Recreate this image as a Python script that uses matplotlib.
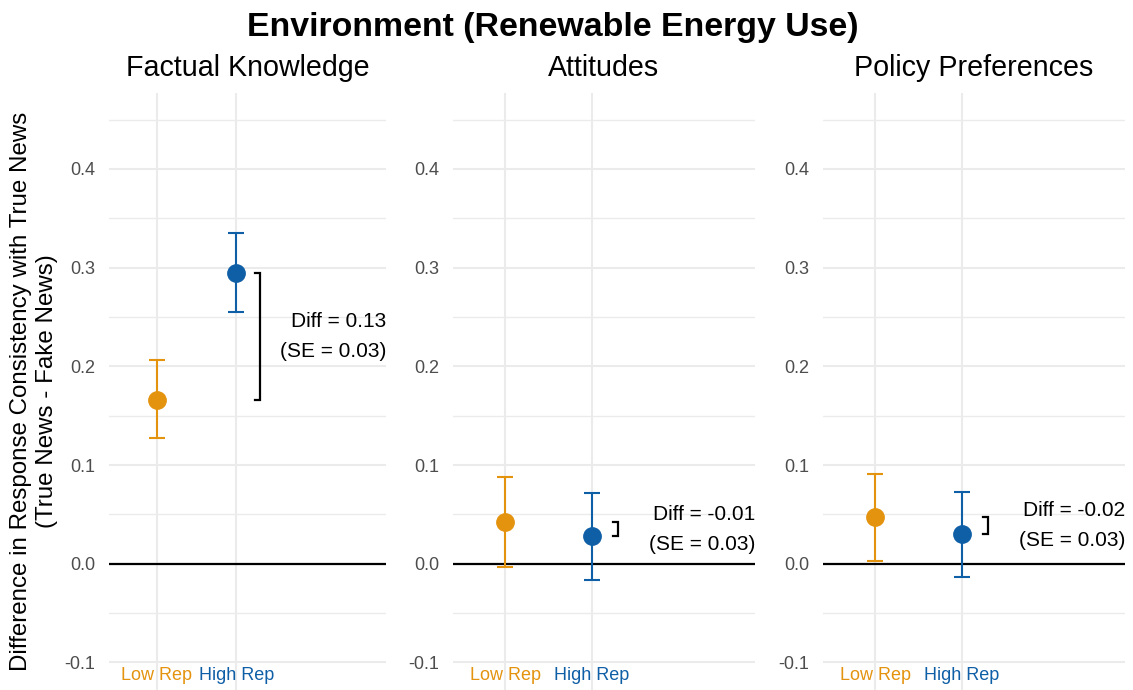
import matplotlib.pyplot as plt
from matplotlib.ticker import MultipleLocator

plt.rcParams['font.family'] = ['Liberation Sans', 'DejaVu Sans']

panels = ["Factual Knowledge", "Attitudes", "Policy Preferences"]
groups = ["Low Rep", "High Rep"]
group_colors = ["#E4930F", "#0F5FA7"]

# point estimates and 95% interval ends, one value per panel
low_est = [0.166, 0.042, 0.047]
low_lo = [0.127, -0.003, 0.003]
low_hi = [0.206, 0.088, 0.091]
high_est = [0.295, 0.028, 0.030]
high_lo = [0.255, -0.017, -0.013]
high_hi = [0.335, 0.072, 0.073]

diffs = [0.13, -0.01, -0.02]
diff_se = [0.03, 0.03, 0.03]

W, H = 1133, 690
fig = plt.figure(figsize=(W / 100, H / 100), dpi=100)

# panel boxes in pixels: left, right
boxes = [(109, 386), (453, 755), (823, 1125)]
top_px, bot_px = 93, 690
ylim = (-0.128, 0.477)
xlim = (0.4, 3.88)

grid_col = "#EBEBEB"
tick_col = "#4D4D4D"

for i, (l, r) in enumerate(boxes):
    ax = fig.add_axes([l / W, 1 - bot_px / H, (r - l) / W, (bot_px - top_px) / H])
    ax.set_xlim(*xlim)
    ax.set_ylim(*ylim)
    for s in ax.spines.values():
        s.set_visible(False)

    ax.yaxis.set_major_locator(MultipleLocator(0.1))
    ax.yaxis.set_minor_locator(MultipleLocator(0.05))
    ax.set_xticks([1, 2])
    ax.set_xticklabels([])
    ax.tick_params(axis="both", which="both", length=0)
    ax.tick_params(axis="y", labelsize=13, labelcolor=tick_col, pad=10)
    ax.grid(True, axis="y", which="major", color=grid_col, lw=1.5, zorder=0)
    ax.grid(True, axis="y", which="minor", color=grid_col, lw=1.0, zorder=0)
    ax.grid(True, axis="x", which="major", color=grid_col, lw=1.5, zorder=0)
    ax.set_axisbelow(True)
    ax.yaxis.set_major_formatter(lambda v, p: f"{v:.1f}" if abs(v) > 1e-9 else "0.0")

    ax.axhline(0, color="black", lw=1.6, zorder=1)

    ests = [low_est[i], high_est[i]]
    los = [low_lo[i], high_lo[i]]
    his = [low_hi[i], high_hi[i]]
    for j in range(2):
        ax.errorbar(j + 1, ests[j], yerr=[[ests[j] - los[j]], [his[j] - ests[j]]],
                    fmt="o", color=group_colors[j], ms=12.5, elinewidth=1.5,
                    capsize=6, capthick=1.5, zorder=3)
        ax.text(j + 1, -0.113, groups[j], color=group_colors[j], fontsize=13,
                ha="center", va="center")

    # bracket between the two estimates
    bx, tick = 2.3, 0.06
    y0, y1 = low_est[i], high_est[i]
    ax.plot([bx - tick, bx, bx, bx - tick], [y0, y0, y1, y1], color="black",
            lw=1.6, solid_joinstyle="miter", zorder=2)
    ax.text(xlim[1], (y0 + y1) / 2,
            f"Diff = {diffs[i]:.2f}\n(SE = {diff_se[i]:.2f})",
            ha="right", va="center", fontsize=15, linespacing=1.75,
            multialignment="right")

    fig.text((l + r) / 2 / W, 1 - 76 / H, panels[i], ha="center",
             va="baseline", fontsize=20.6)

fig.text(553 / W, 1 - 36 / H, "Environment (Renewable Energy Use)", ha="center",
         va="baseline", fontsize=24.4, fontweight="bold")

fig.text(34 / W, 1 - 391 / H,
         "Difference in Response Consistency with True News\n(True News - Fake News)",
         rotation=90, ha="center", va="center", multialignment="center",
         fontsize=17.4)

fig.savefig("out.png", dpi=100, facecolor="white")
